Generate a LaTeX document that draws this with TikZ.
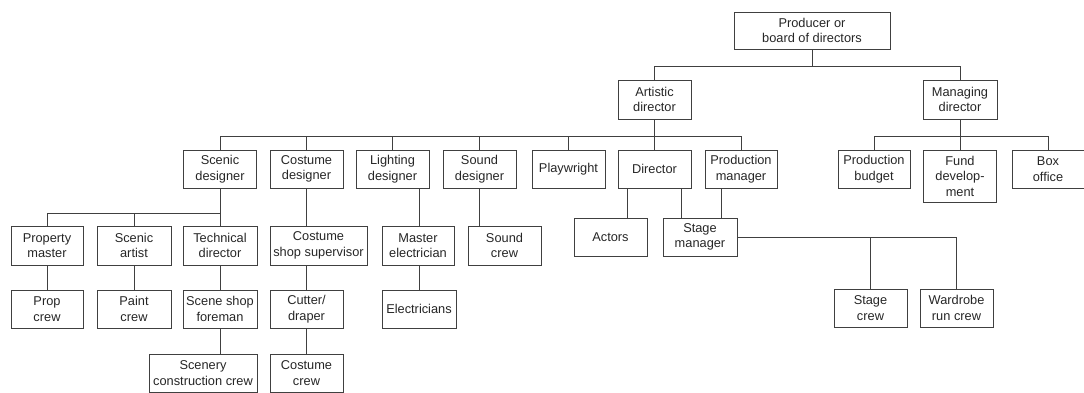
\documentclass[tikz,border=0pt]{standalone}
\usepackage{fontspec}
\setmainfont{Liberation Sans}
\usetikzlibrary{positioning,calc}

\begin{document}
\begin{tikzpicture}[x=1pt, y=-1pt,
    box/.style={draw=black!75, line width=0.9pt, align=center, inner sep=1pt,
        minimum width=73pt, minimum height=38pt, text=black!85,
        font=\fontsize{12.8}{15.5}\selectfont},
    link/.style={draw=black!75, line width=0.9pt}]
    \useasboundingbox (0,0) rectangle (1084,392);

    % Vertice
    \node[box, minimum width=156pt, minimum height=37pt] (prod) at (812,30.5) {Producer or\\board of directors};
    \node[box, minimum height=39pt] (art) at (654.5,99.5) {Artistic\\director};
    \node[box, minimum width=74pt, minimum height=39pt] (man) at (960,99.5) {Managing\\director};

    % Designers and staff
    \node[box] (scenic) at (220,169) {Scenic\\designer};
    \node[box] (costume) at (306.5,169) {Costume\\designer};
    \node[box] (lighting) at (392.5,169) {Lighting\\designer};
    \node[box] (sound) at (479.5,169) {Sound\\designer};
    \node[box] (playwright) at (568.5,169) {Playwright};
    \node[box] (director) at (654.5,169) {Director};
    \node[box, minimum width=72pt] (prodman) at (741,169) {Production\\manager};

    % Managing side
    \node[box, minimum width=72pt] (budget) at (874,169) {Production\\budget};
    \node[box, minimum height=52pt] (fund) at (960,176) {Fund\\develop-\\ment};
    \node[box, minimum width=72pt] (boxoffice) at (1048,169) {Box\\office};

    % Third row
    \node[box, minimum width=72pt, minimum height=39pt] (propmaster) at (47,245.5) {Property\\master};
    \node[box, minimum width=74pt, minimum height=39pt] (scenicartist) at (134,245.5) {Scenic\\artist};
    \node[box, minimum width=74pt, minimum height=39pt] (techdir) at (220,245.5) {Technical\\director};
    \node[box, minimum width=97pt, minimum height=39pt] (costsup) at (318.5,245.5) {Costume\\shop supervisor};
    \node[box, minimum width=72pt, minimum height=39pt] (mastelec) at (418,245.5) {Master\\electrician};
    \node[box, minimum height=39pt] (soundcrew) at (504.5,245.5) {Sound\\crew};
    \node[box] (actors) at (610.5,237) {Actors};
    \node[box, minimum width=74pt] (stagemgr) at (700,237) {Stage\\manager};

    % Fourth row
    \node[box, minimum width=72pt] (propcrew) at (47,309) {Prop\\crew};
    \node[box, minimum width=74pt] (paintcrew) at (134,309) {Paint\\crew};
    \node[box, minimum width=74pt] (sceneshop) at (220,309) {Scene shop\\foreman};
    \node[box] (cutter) at (306.5,309) {Cutter/\\draper};
    \node[box, minimum width=74pt] (electricians) at (419,309) {Electricians};
    \node[box] (stagecrew) at (870.5,308) {Stage\\crew};
    \node[box] (wardrobe) at (956.5,308) {Wardrobe\\run crew};

    % Bottom row
    \node[box, minimum width=108pt] (scenery) at (203,373) {Scenery\\construction crew};
    \node[box] (costcrew) at (306.5,373) {Costume\\crew};

    % Linee di collegamento
    \coordinate (bus1) at (0,66);
    \coordinate (bus2) at (0,136);
    \coordinate (bus3) at (0,213);
    \draw[link] (prod.south) -- (prod.south |- bus1);
    \draw[link] (art.north) |- (bus1 -| man.north) -- (man.north);

    \draw[link] (art.south) -- (art.south |- bus2);
    \draw[link] (scenic.north) |- (bus2 -| prodman.north) -- (prodman.north);
    \foreach \n in {costume,lighting,sound,playwright,director}
        \draw[link] (\n.north) -- (\n.north |- bus2);

    \draw[link] (man.south) -- (man.south |- fund.north);
    \draw[link] (budget.north) |- (bus2 -| boxoffice.north) -- (boxoffice.north);

    % Scenic designer
    \draw[link] (scenic.south) -- (techdir.north);
    \draw[link] (propmaster.north) |- (bus3 -| techdir.north);
    \draw[link] (scenicartist.north) -- (scenicartist.north |- bus3);
    \draw[link] (propmaster.south) -- (propcrew.north);
    \draw[link] (scenicartist.south) -- (paintcrew.north);
    \draw[link] (techdir.south) -- (sceneshop.north);
    \draw[link] (sceneshop.south) -- (sceneshop.south |- scenery.north);

    % Costume designer
    \draw[link] (costume.south) -- (costume.south |- costsup.north);
    \draw[link] (cutter.north |- costsup.south) -- (cutter.north);
    \draw[link] (cutter.south) -- (costcrew.north);

    % Lighting and sound
    \draw[link] (electricians.north |- lighting.south) -- (electricians.north |- mastelec.north);
    \draw[link] (electricians.north |- mastelec.south) -- (electricians.north);
    \draw[link] (sound.south) -- (sound.south |- soundcrew.north);

    % Director and production manager
    \draw[link] ([xshift=10pt]director.south west) -- ([xshift=10pt]director.south west |- actors.north);
    \draw[link] ([xshift=-10pt]director.south east) -- ([xshift=-10pt]director.south east |- stagemgr.north);
    \draw[link] ([xshift=-20pt]prodman.south) -- ([xshift=-20pt]prodman.south |- stagemgr.north);

    % Stage manager
    \draw[link] (stagemgr.east) -| (wardrobe.north);
    \draw[link] (stagecrew.north |- stagemgr.east) -- (stagecrew.north);
\end{tikzpicture}
\end{document}
